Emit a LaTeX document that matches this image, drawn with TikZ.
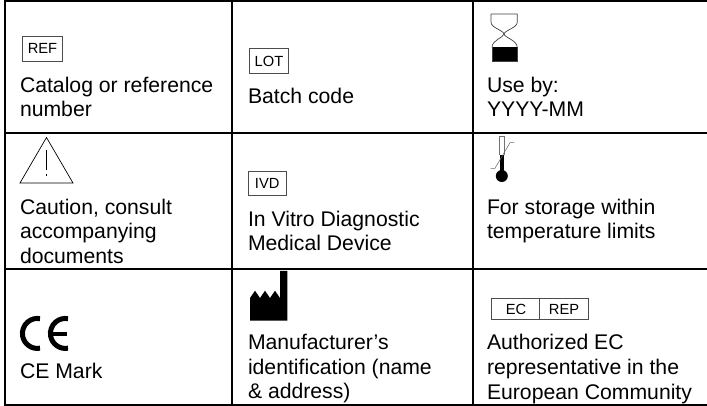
\documentclass[tikz,border=0pt]{standalone}
\usepackage{fontspec}
\setmainfont{Liberation Sans}
\tikzset{
  lbl/.style={anchor=base west,inner sep=0pt,outer sep=0pt,font=\fontsize{21.2}{24}\selectfont},
  sym/.style={anchor=base,inner sep=0pt,outer sep=0pt,font=\fontsize{14.7}{16}\selectfont},
  rule/.style={line width=2.2pt,black},
  boxed/.style={line width=0.8pt,draw=black!70,fill=white},
  thin sym/.style={line width=0.7pt,draw=black!75},
  ce/.style={line width=5pt,black}
}
\begin{document}
\begin{tikzpicture}[x=1pt,y=-1pt]
\useasboundingbox (0,0) rectangle (707,406);
% grid
\draw[rule] (5,1) -- (707,1);
\draw[rule] (5,133) -- (707,133);
\draw[rule] (5,268.7) -- (707,268.7);
\draw[rule] (5,404.6) -- (707,404.6);
\draw[rule] (5,0) -- (5,406);
\draw[rule] (232.3,0) -- (232.3,406);
\draw[rule] (472.8,0) -- (472.8,406);
% row 1
\draw[boxed] (22.5,36) rectangle (62.5,61.5);
\node[sym] (ref) at (42.5,54) {REF};
\node[lbl] (t1a) at (20,92.7) {Catalog or reference};
\node[lbl] (t1b) at (20,116.7) {number};
\draw[boxed] (249.5,48.5) rectangle (288.5,73);
\node[sym] (lot) at (269,66.5) {LOT};
\node[lbl] (t2a) at (248,104) {Batch code};
% hourglass
\fill[black] (492,47.5) rectangle (517.3,61.5);
\draw[thin sym] (491,14) -- (517.3,14)
  (491,14) -- (491,22) .. controls (491,28) and (503,30) .. (504,34)
  .. controls (505,38) and (517,40) .. (517.3,47.5)
  (517.3,14) -- (517.3,22) .. controls (517.3,28) and (505,30) .. (504,34)
  .. controls (503,38) and (492,40) .. (492,47.5);
\draw[thin sym] (492,47.5) -- (492,61.5) -- (517.3,61.5) -- (517.3,47.5);
\node[lbl] (t3a) at (487,92.7) {Use by:};
\node[lbl] (t3b) at (487,116.7) {YYYY-MM};
% row 2
\draw[line width=0.7pt,black,line join=miter] (46.5,137.5) -- (73,183) -- (20,183) -- cycle;
\draw[line width=0.8pt,black] (46.5,150) -- (46.5,170);
\draw[line width=0.9pt,black] (46.5,174.5) -- (46.5,176.5);
\node[lbl] (t4a) at (20,215) {Caution, consult};
\node[lbl] (t4b) at (20,238.5) {accompanying};
\node[lbl] (t4c) at (20,263) {documents};
\draw[boxed] (248,171.5) rectangle (286.5,195.5);
\node[sym] (ivd) at (267.2,189) {IVD};
\node[lbl] (t5a) at (248,227) {In Vitro Diagnostic};
\node[lbl] (t5b) at (248,251) {Medical Device};
% thermometer
\draw[line width=0.6pt,draw=black!55] (499.5,155) -- (499.5,136.5) -- (504,136.5) -- (504,155);
\fill[black] (499.5,155) rectangle (504,172);
\fill[black] (501.8,176) circle (6);
\draw[line width=0.5pt,draw=black!60] (490.7,168.3) -- (495,168.3) -- (510,142.7) -- (514,142.7);
\node[lbl] (t6a) at (487,215) {For storage within};
\node[lbl] (t6b) at (487,238.5) {temperature limits};
% row 3
\draw[ce] (40,348.2) arc[start angle=80,end angle=280,radius=15];
\draw[ce] (68,348.2) arc[start angle=80,end angle=280,radius=15];
\draw[line width=4pt,black] (53,333.5) -- (67,333.5);
\node[lbl] (t7a) at (20,378) {CE Mark};
\fill[black] (250,320.7) -- (250,298) -- (255,290.7) -- (260,298) -- (265,290.7) -- (270,298) -- (275,290.7) -- (280,298) -- (280,271) -- (287.3,271) -- (287.3,320.7) -- cycle;
\node[lbl] (t8a) at (248,349.7) {Manufacturer’s};
\node[lbl] (t8b) at (248,374.5) {identification (name};
\node[lbl] (t8c) at (248,398) {\&~address)};
\draw[boxed] (491.3,298) rectangle (588.3,319.3);
\draw[line width=0.8pt,draw=black!70] (539.3,298) -- (539.3,319.3);
\node[sym] (ec) at (516,314) {EC};
\node[sym] (rep) at (564,314) {REP};
\node[lbl] (t9a) at (487,349.7) {Authorized EC};
\node[lbl] (t9b) at (487,374.5) {representative in the};
\node[lbl] (t9c) at (487,399) {European Community};
\end{tikzpicture}
\end{document}
